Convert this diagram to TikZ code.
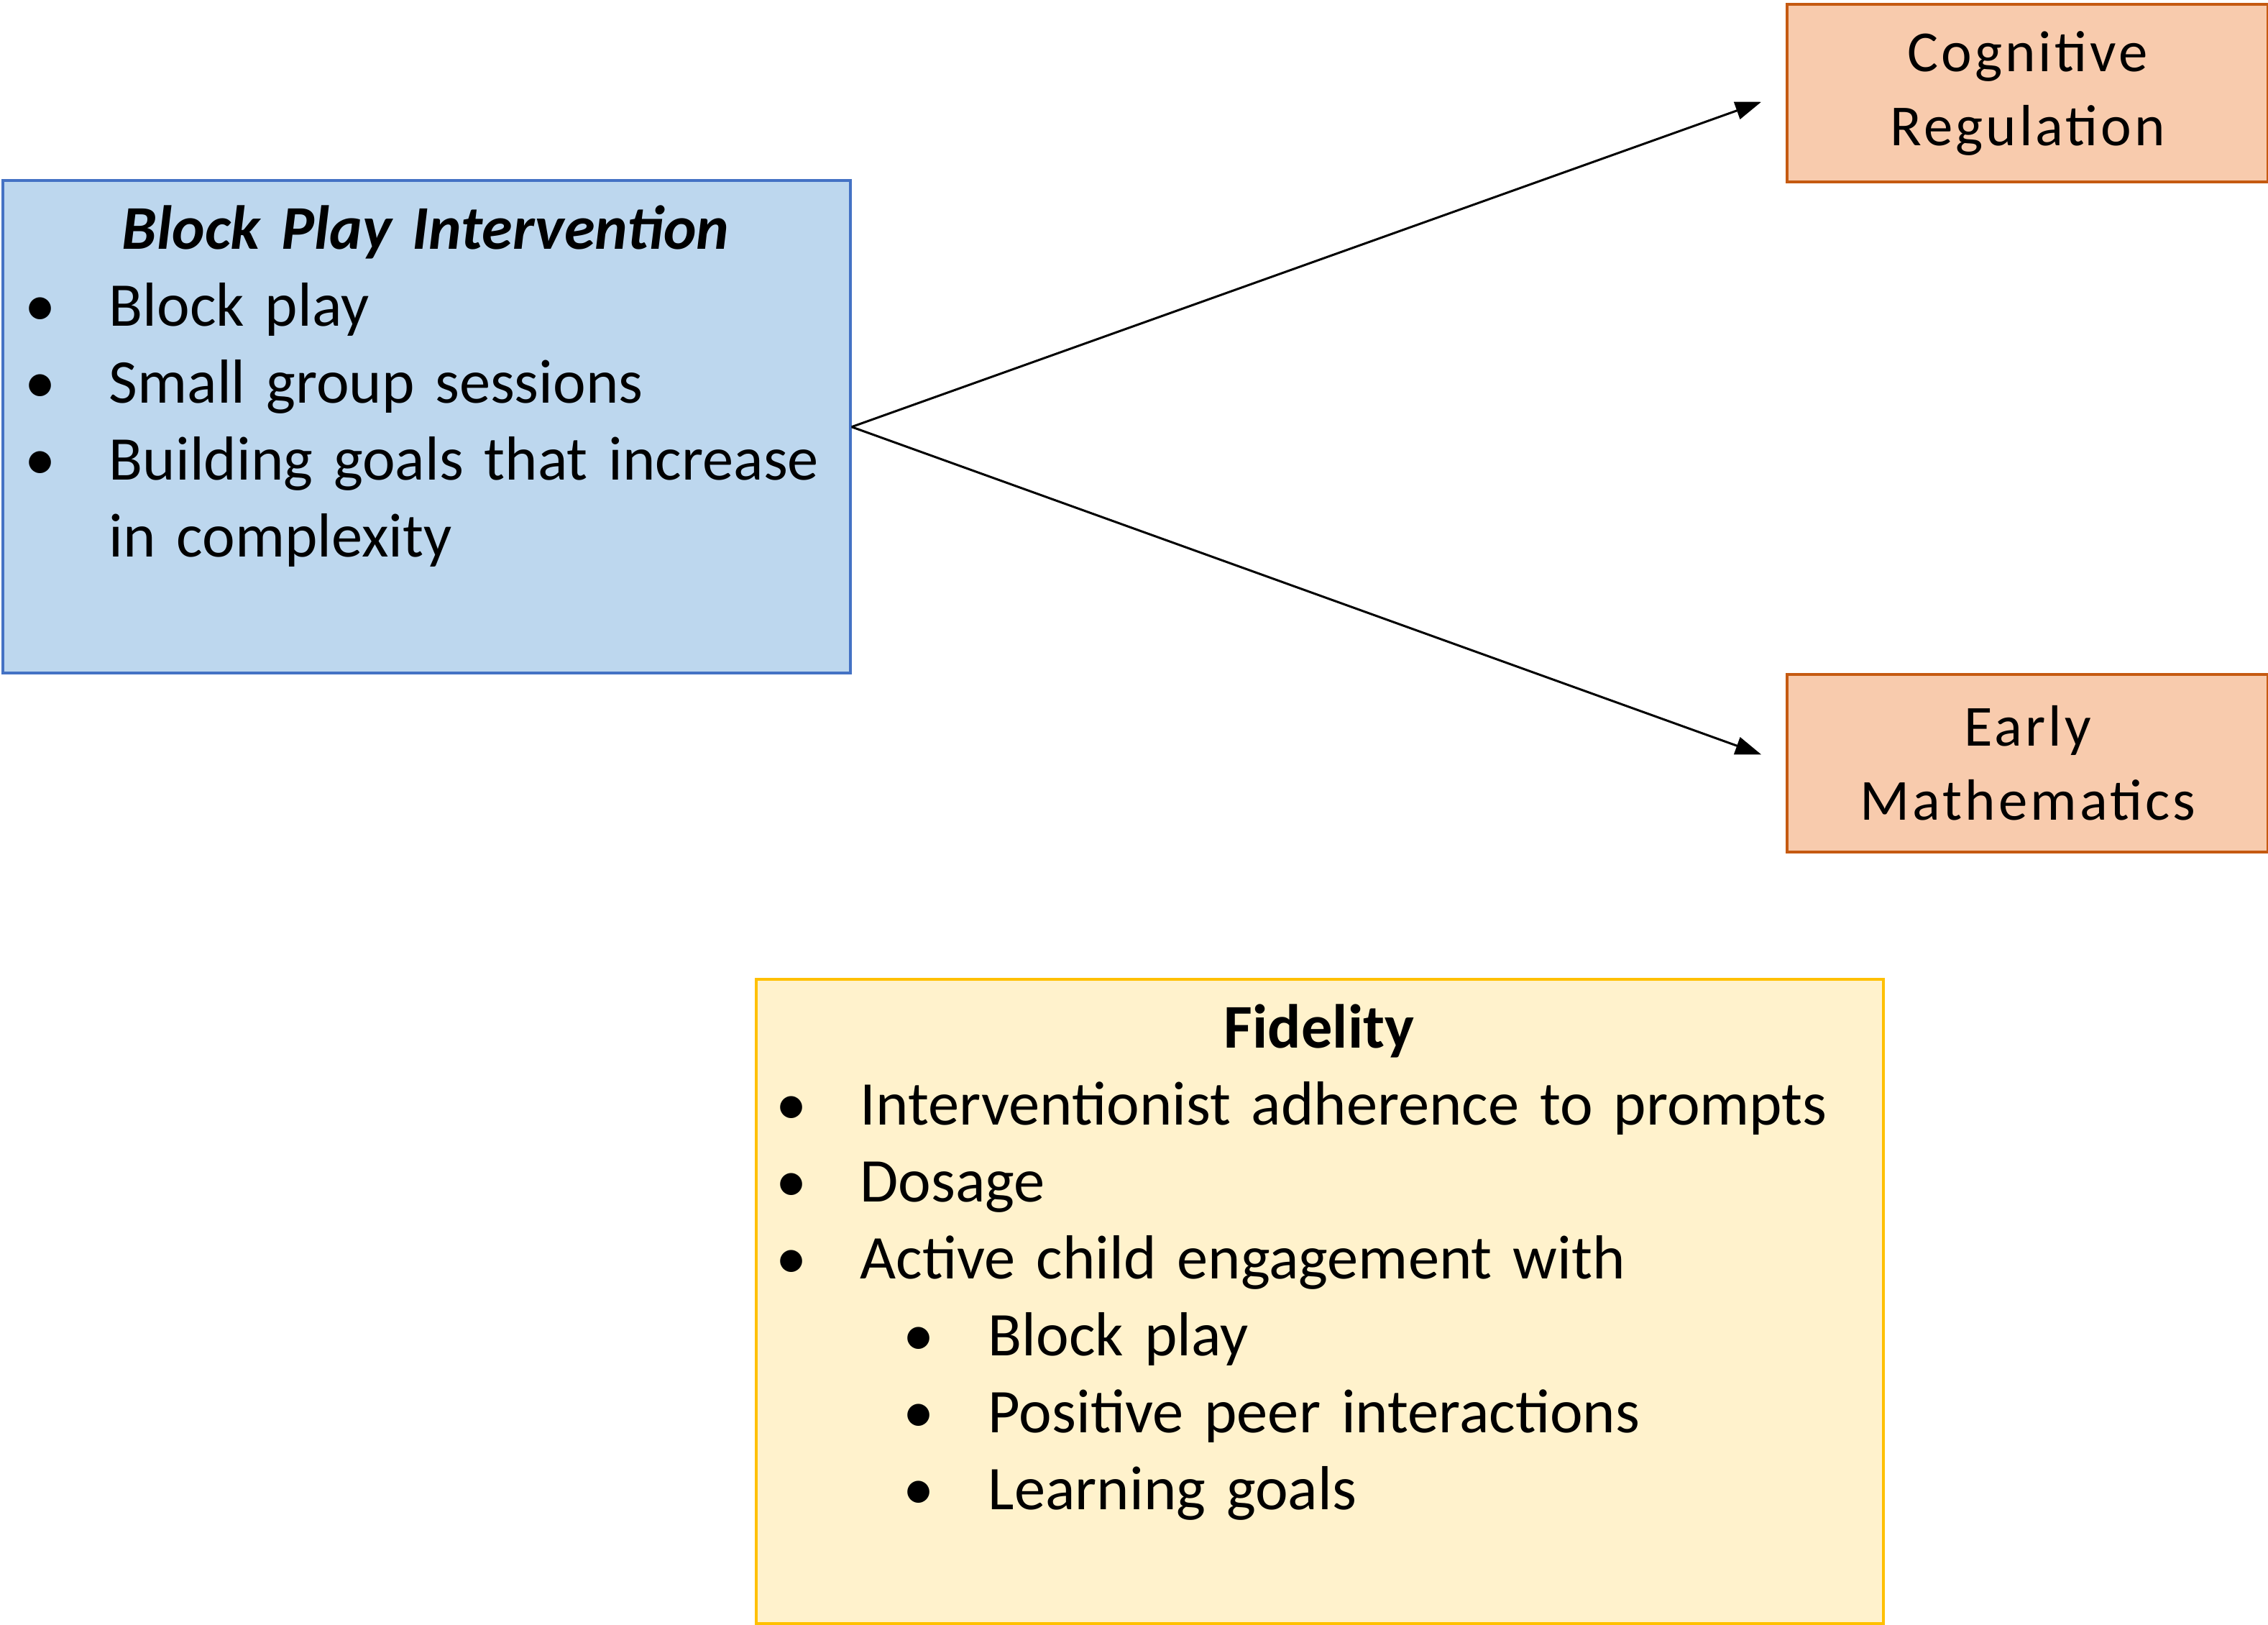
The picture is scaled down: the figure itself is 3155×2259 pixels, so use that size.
\documentclass[tikz,border=0pt]{standalone}
\usepackage{fontspec}
\setmainfont{Carlito}
\newfontfamily\outcomefont[LetterSpace=5]{Carlito}
\usepackage{tikz}
\usetikzlibrary{positioning, arrows.meta}
\definecolor{interfill}{HTML}{BDD7EE}
\definecolor{interline}{HTML}{4472C4}
\definecolor{outfill}{HTML}{F8CBAD}
\definecolor{outline}{HTML}{C55A11}
\definecolor{fidfill}{HTML}{FFF2CC}
\definecolor{fidline}{HTML}{FFC000}
\tikzset{intervention/.style={
        draw=interline,
        fill=interfill,
        line width=0.04cm,
        rectangle,
        anchor=north west,
        inner sep=0pt,
        minimum width=11.78cm,
        minimum height=6.85cm
}}
\tikzset{outcome/.style={
        draw=outline,
        fill=outfill,
        line width=0.04cm,
        rectangle,
        anchor=north west,
        inner sep=0pt,
        align=center,
        minimum width=6.69cm,
        minimum height=2.47cm,
        font=\outcomefont\fontsize{23}{29.3}\selectfont
}}
\tikzset{fidelity/.style={
        draw=fidline,
        fill=fidfill,
        line width=0.04cm,
        rectangle,
        anchor=north west,
        inner sep=0pt,
        minimum width=15.67cm,
        minimum height=8.95cm
}}
\tikzset{boxtext/.style={anchor=north west, inner sep=0pt, align=left, font=\fontsize{24.6}{30.4}\selectfont}}
\tikzset{pathedge/.style={draw, line width=0.03cm, -{Triangle[length=0.36cm, width=0.25cm]}, shorten >=0.36cm}}
\newcommand{\bitem}[1]{\par\noindent\makebox[1.17cm][l]{\textbullet}#1}
\newcommand{\bcont}[1]{\par\noindent\hspace*{1.17cm}#1}
\newcommand{\subbitem}[1]{\par\noindent\hspace*{1.77cm}\makebox[1.18cm][l]{\textbullet}#1}

\begin{document}
\begin{tikzpicture}[x=0.01cm, y=-0.01cm]
\useasboundingbox (0,0) rectangle (3155,2259);
\node[intervention] (bpi) at (2,249) {};
\node[boxtext, text width=11.14cm] (bpitext) at (34,271) {%
{\centering\bfseries\itshape\strut Block Play Intervention\par}
\bitem{Block play}
\bitem{Small group sessions}
\bitem{Building goals that increase}
\bcont{in complexity}};

\node[outcome] (cog) at (2484,4) {Cognitive\\Regulation};
\node[outcome] (math) at (2484,936) {Early\\Mathematics};

\node[fidelity] (fid) at (1050,1360) {};
\node[boxtext, text width=15.10cm] (fidtext) at (1079,1382) {%
{\centering\bfseries\strut Fidelity\par}
\bitem{Interventionist adherence to prompts}
\bitem{Dosage}
\bitem{Active child engagement with}
\subbitem{Block play}
\subbitem{Positive peer interactions}
\subbitem{Learning goals}};

\draw[pathedge] (bpi.east) -- (cog.west);
\draw[pathedge] (bpi.east) -- (math.west);
\end{tikzpicture}
\end{document}
